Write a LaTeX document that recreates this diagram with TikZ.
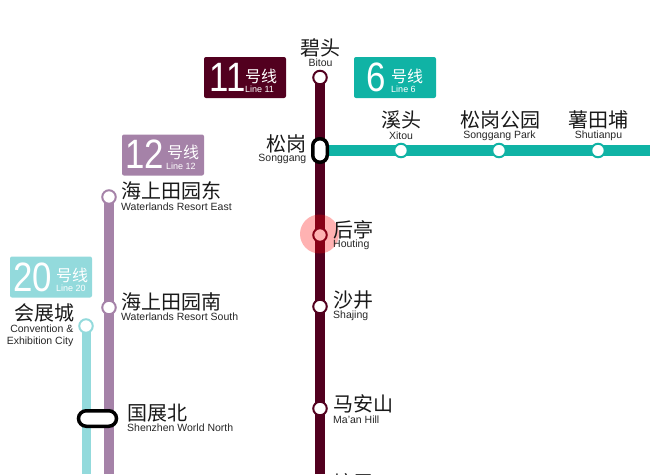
\documentclass[tikz,border=0pt]{standalone}
\usepackage{fontspec}
\setmainfont{Liberation Sans}
\newfontfamily\cjk{Noto Sans CJK SC}
\usepackage{xcolor}
\definecolor{lineXI}{HTML}{52001F}
\definecolor{lineVI}{HTML}{10B3A5}
\definecolor{lineXII}{HTML}{A582A8}
\definecolor{lineXX}{HTML}{93DADC}
\usetikzlibrary{
  calc,
  shapes.misc
}
\tikzset{
  track/.style={line width=#1},
  stn/.style={circle,fill=white,draw=#1,line width=2pt,minimum size=13.5pt,inner sep=0pt},
  transfer/.style={fill=white,draw=black,line width=3.5pt,inner sep=0pt},
  zhname/.style={inner sep=0pt,font=\fontsize{20}{20}\selectfont\cjk,text=black!90},
  enname/.style={inner sep=0pt,font=\fontsize{10.5}{12}\selectfont,text=black!85},
  badge/.style={rounded corners=2pt,fill=#1,minimum width=82pt,minimum height=41pt,inner sep=0pt},
  badgenum/.style={inner sep=0pt,text=white,font=\fontsize{41}{41}\selectfont,xscale=0.85,transform shape},
  badgezh/.style={inner sep=0pt,text=white,font=\fontsize{16}{16}\selectfont\cjk},
  badgeen/.style={inner sep=0pt,text=white,font=\fontsize{9}{9}\selectfont}
}
\begin{document}
\begin{tikzpicture}[x=1pt,y=-1pt]
  \useasboundingbox (0,0) rectangle (650,474);
  % line ends
  \coordinate (l20end) at (86,474);
  \coordinate (l12end) at (109,474);
  \coordinate (l11end) at (320,474);
  \coordinate (l6end) at (650,150.5);
  \coordinate (bitou) at (320,77.5);
  \coordinate (songgang) at (320,150.5);
  \coordinate (top12) at (109,197);
  \coordinate (top20) at (86,326);
  % lines
  \draw[track=9pt,lineXX] (top20) -- (l20end);
  \draw[track=10pt,lineXII] (top12) -- (l12end);
  \draw[track=11pt,lineVI] (songgang) -- (l6end);
  \draw[track=10pt,lineXI] (bitou) -- (l11end);
  % stops
  \node[stn=lineXI] (s1) at (bitou) {};
  \node[stn=lineVI] (x1) at (401,150.5) {};
  \node[stn=lineVI] (x2) at (499,150.5) {};
  \node[stn=lineVI] (x3) at (598,150.5) {};
  \node[stn=lineXI] (s2) at (320,235) {};
  \node[stn=lineXI] (s3) at (320,306.5) {};
  \node[stn=lineXI] (s4) at (320,408.5) {};
  \node[stn=lineXII] (w1) at (top12) {};
  \node[stn=lineXII] (w2) at (109,307.5) {};
  \node[stn=lineXX] (c1) at (top20) {};
  \node[transfer,rectangle,rounded corners=7pt,minimum width=14.5pt,minimum height=23.5pt] (tsg) at (songgang) {};
  \node[transfer,rounded rectangle,minimum width=38pt,minimum height=15.5pt] (tsz) at (97.5,418.5) {};
  \node[circle,fill=red,fill opacity=0.3,minimum size=39pt,inner sep=0pt] (halo) at (319.5,234) {};
  % labels
  \node[zhname] (zbitou) at (320.5,47.5) {碧头};
  \node[enname] (ebitou) at (320.5,63) {Bitou};
  \node[zhname,anchor=east] (zsong) at (307,144) {松岗};
  \node[enname,anchor=east] (esong) at (306.5,159) {Songgang};
  \node[zhname] (zxitou) at (401,119.5) {溪头};
  \node[enname] (exitou) at (401,135.5) {Xitou};
  \node[zhname] (zpark) at (500,119.5) {松岗公园};
  \node[enname] (epark) at (499.5,135.5) {Songgang Park};
  \node[zhname] (zshu) at (598.5,119.5) {薯田埔};
  \node[enname] (eshu) at (598.5,135.5) {Shutianpu};
  \node[zhname,anchor=west] (zhou) at (333,230) {后亭};
  \node[enname,anchor=west] (ehou) at (333,244.5) {Houting};
  \node[zhname,anchor=west] (zsha) at (333,300.5) {沙井};
  \node[enname,anchor=west] (esha) at (333,316) {Shajing};
  \node[zhname,anchor=west] (zma) at (333,403.5) {马安山};
  \node[enname,anchor=west] (ema) at (333,419.5) {Ma'an Hill};
  \node[zhname,anchor=west] (ztang) at (333,483) {塘尾};
  \node[zhname,anchor=west] (zwe) at (121,190.5) {海上田园东};
  \node[enname,anchor=west] (ewe) at (121,206.5) {Waterlands Resort East};
  \node[zhname,anchor=west] (zws) at (121,301.5) {海上田园南};
  \node[enname,anchor=west] (ews) at (121,316.5) {Waterlands Resort South};
  \node[zhname,anchor=west] (zsz) at (127,413) {国展北};
  \node[enname,anchor=west] (esz) at (127,428) {Shenzhen World North};
  \node[zhname] (zconv) at (44,313) {会展城};
  \node[enname,align=right,anchor=east] (econv) at (73.5,335.5) {Convention \&\\Exhibition City};
  % badges
  \node[badge=lineXI] (b11) at (245,77.5) {};
  \node[badgenum] (n11) at (228,77) {11};
  \node[badgezh] (h11) at (261,76) {号线};
  \node[badgeen] (e11) at (259.5,89.5) {Line 11};
  \node[badge=lineVI] (b6) at (395,77.5) {};
  \node[badgenum] (n6) at (376,77) {6};
  \node[badgezh] (h6) at (407,76) {号线};
  \node[badgeen] (e6) at (403.5,89) {Line 6};
  \node[badge=lineXII] (b12) at (163,155) {};
  \node[badgenum] (n12) at (144.5,154.5) {12};
  \node[badgezh] (h12) at (183,152.5) {号线};
  \node[badgeen] (e12) at (181,166) {Line 12};
  \node[badge=lineXX] (b20) at (51,277) {};
  \node[badgenum] (n20) at (33,277) {20};
  \node[badgezh] (h20) at (72,275) {号线};
  \node[badgeen] (e20) at (71,288) {Line 20};
\end{tikzpicture}
\end{document}
